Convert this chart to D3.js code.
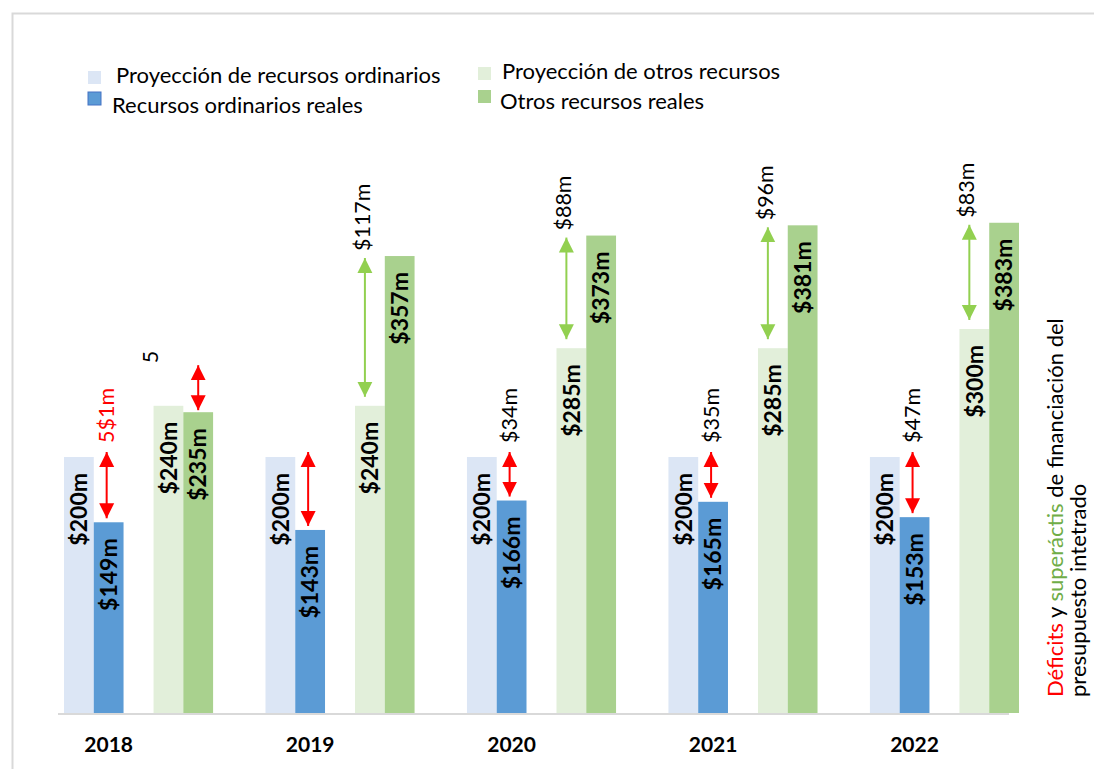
<!DOCTYPE html>
<html>
<head>
<meta charset="utf-8">
<script src="https://cdn.jsdelivr.net/npm/d3@7"></script>
<style>
  body { margin: 0; background: #fff; }
  svg { display: block; font-family: Lato, "Open Sans", sans-serif; }
</style>
</head>
<body>
<div id="chart"></div>
<script>
var years = ['2018', '2019', '2020', '2021', '2022'];
var projOrd = [200, 200, 200, 200, 200];
var realOrd = [149, 143, 166, 165, 153];
var projOtros = [240, 240, 285, 285, 300];
var realOtros = [235, 357, 373, 381, 383];
var gapOrdLabels = ['5$1m', '', '$34m', '$35m', '$47m'];
var gapOtrosLabels = ['5', '$117m', '$88m', '$96m', '$83m'];
var seriesNames = ['Proyección de recursos ordinarios', 'Recursos ordinarios reales',
                   'Proyección de otros recursos', 'Otros recursos reales'];

var width = 1094, height = 769;
var colors = { projOrd: '#dce6f5', realOrd: '#5b9bd5', projOtros: '#e2efda', realOtros: '#a9d18e' };
var red = '#ff0000', green = '#92d050';

var svg = d3.select('#chart').append('svg')
    .attr('width', width)
    .attr('height', height);

// frame
svg.append('rect')
    .attr('x', 12.5).attr('y', 13.5)
    .attr('width', 1100).attr('height', 800)
    .attr('fill', 'none').attr('stroke', '#d9d9d9').attr('stroke-width', 2);

var y = d3.scaleLinear().domain([0, 400]).range([713, 201]);
var x0 = d3.scaleBand().domain(years).range([64, 1019]).paddingInner(0.26);
var xPair = d3.scaleBand().domain(['ord', 'otros']).range([0, x0.bandwidth()]).paddingInner(0.335);
var xBar = d3.scaleBand().domain(['proj', 'real']).range([0, xPair.bandwidth()]);

var defs = svg.append('defs');
[['headRed', red], ['headGreen', green]].forEach(function (m) {
    defs.append('marker')
        .attr('id', m[0])
        .attr('viewBox', '0 0 10 10')
        .attr('refX', 10).attr('refY', 5)
        .attr('markerWidth', 15).attr('markerHeight', 16)
        .attr('markerUnits', 'userSpaceOnUse')
        .attr('orient', 'auto-start-reverse')
        .append('path')
        .attr('d', 'M0,0 L10,5 L0,10 z')
        .attr('fill', m[1]);
});

// baseline
svg.append('line')
    .attr('x1', x0.range()[0] - 6).attr('x2', x0.range()[1] - 10)
    .attr('y1', y(0) + 1).attr('y2', y(0) + 1)
    .attr('stroke', '#d9d9d9').attr('stroke-width', 2);

var bars = [];
years.forEach(function (yr, i) {
    bars.push({ year: yr, pair: 'ord', kind: 'proj', value: projOrd[i], color: colors.projOrd });
    bars.push({ year: yr, pair: 'ord', kind: 'real', value: realOrd[i], color: colors.realOrd });
    bars.push({ year: yr, pair: 'otros', kind: 'proj', value: projOtros[i], color: colors.projOtros });
    bars.push({ year: yr, pair: 'otros', kind: 'real', value: realOtros[i], color: colors.realOtros });
});

function barX(d) { return x0(d.year) + xPair(d.pair) + xBar(d.kind); }

svg.append('g').selectAll('rect')
    .data(bars)
    .enter()
    .append('rect')
    .attr('x', barX)
    .attr('y', function (d) { return y(d.value); })
    .attr('width', xBar.bandwidth())
    .attr('height', function (d) { return y(0) - y(d.value); })
    .attr('fill', function (d) { return d.color; });

svg.append('g').selectAll('text')
    .data(bars)
    .enter()
    .append('text')
    .attr('transform', function (d) {
        return 'translate(' + (barX(d) + xBar.bandwidth() / 2) + ',' + (y(d.value) + 16) + ') rotate(-90)';
    })
    .attr('text-anchor', 'end')
    .attr('dy', '0.36em')
    .attr('font-size', 23)
    .attr('font-weight', 'bold')
    .attr('fill', '#000')
    .text(function (d) { return '$' + d.value + 'm'; });

// gap arrows
var arrows = [];
years.forEach(function (yr, i) {
    var xr = x0(yr) + xPair('ord') + xBar('real') + xBar.bandwidth() / 2 - 2;
    arrows.push({ x: xr, y1: y(projOrd[i]) - 5, y2: y(realOrd[i]) - 4, color: red, marker: 'headRed',
                  label: gapOrdLabels[i], labelColor: i === 0 ? red : '#000', lx: xr, gap: 9 });
    if (realOtros[i] - projOtros[i] > 20) {
        var xg = x0(yr) + xPair('otros') + xBar('proj') + xBar.bandwidth() / 2 - 5;
        arrows.push({ x: xg, y1: y(realOtros[i]) + 2, y2: y(projOtros[i]) - 9, color: green, marker: 'headGreen',
                      label: gapOtrosLabels[i], labelColor: '#000', lx: xg - 3, gap: 7 });
    } else {
        var xs = x0(yr) + xPair('otros') + xBar('real') + xBar.bandwidth() / 2;
        var bottom = y(Math.min(realOtros[i], projOtros[i])) - 2;
        arrows.push({ x: xs, y1: bottom - 45, y2: bottom, color: red, marker: 'headRed',
                      label: gapOtrosLabels[i], labelColor: '#000', lx: xs - 48, gap: 2 });
    }
});

svg.append('g').selectAll('line')
    .data(arrows)
    .enter()
    .append('line')
    .attr('x1', function (d) { return d.x; }).attr('x2', function (d) { return d.x; })
    .attr('y1', function (d) { return d.y1; }).attr('y2', function (d) { return d.y2; })
    .attr('stroke', function (d) { return d.color; })
    .attr('stroke-width', 2)
    .attr('marker-start', function (d) { return 'url(#' + d.marker + ')'; })
    .attr('marker-end', function (d) { return 'url(#' + d.marker + ')'; });

svg.append('g').selectAll('text')
    .data(arrows.filter(function (d) { return d.label; }))
    .enter()
    .append('text')
    .attr('transform', function (d) { return 'translate(' + d.lx + ',' + (d.y1 - d.gap) + ') rotate(-90)'; })
    .attr('dy', '0.36em')
    .attr('font-size', 21.5)
    .attr('fill', function (d) { return d.labelColor; })
    .text(function (d) { return d.label; });

// year labels
svg.append('g').selectAll('text')
    .data(years)
    .enter()
    .append('text')
    .attr('x', function (d) { return x0(d) + xPair.bandwidth() * 0.75; })
    .attr('y', 752)
    .attr('text-anchor', 'middle')
    .attr('font-size', 21)
    .attr('font-weight', 'bold')
    .attr('fill', '#000')
    .text(function (d) { return d; });

// legend
var legendItems = [
    { name: seriesNames[0], color: colors.projOrd, sx: 88, sy: 71, tx: 116, ty: 83 },
    { name: seriesNames[1], color: colors.realOrd, sx: 88, sy: 92, tx: 112, ty: 113, stroke: '#4472c4' },
    { name: seriesNames[2], color: colors.projOtros, sx: 478, sy: 67, tx: 502, ty: 79 },
    { name: seriesNames[3], color: colors.realOtros, sx: 478, sy: 90, tx: 500, ty: 109 }
];
var legend = svg.append('g').selectAll('g').data(legendItems).enter().append('g');
legend.append('rect')
    .attr('x', function (d) { return d.sx; }).attr('y', function (d) { return d.sy; })
    .attr('width', 13).attr('height', 13)
    .attr('fill', function (d) { return d.color; })
    .attr('stroke', function (d) { return d.stroke || 'none'; });
legend.append('text')
    .attr('x', function (d) { return d.tx; }).attr('y', function (d) { return d.ty; })
    .attr('font-size', 22)
    .attr('fill', '#000')
    .text(function (d) { return d.name; });

// side title
var t1 = svg.append('text')
    .attr('transform', 'translate(1063,697) rotate(-90)')
    .attr('font-size', 22);
t1.append('tspan').attr('fill', red).text('Déficits');
t1.append('tspan').attr('fill', '#000').text(' y ');
t1.append('tspan').attr('fill', '#70ad47').text('superáctis');
t1.append('tspan').attr('fill', '#000').text(' de financiación del');
svg.append('text')
    .attr('transform', 'translate(1086,697) rotate(-90)')
    .attr('font-size', 22)
    .attr('fill', '#000')
    .text('presupuesto intetrado');
</script>
</body>
</html>
